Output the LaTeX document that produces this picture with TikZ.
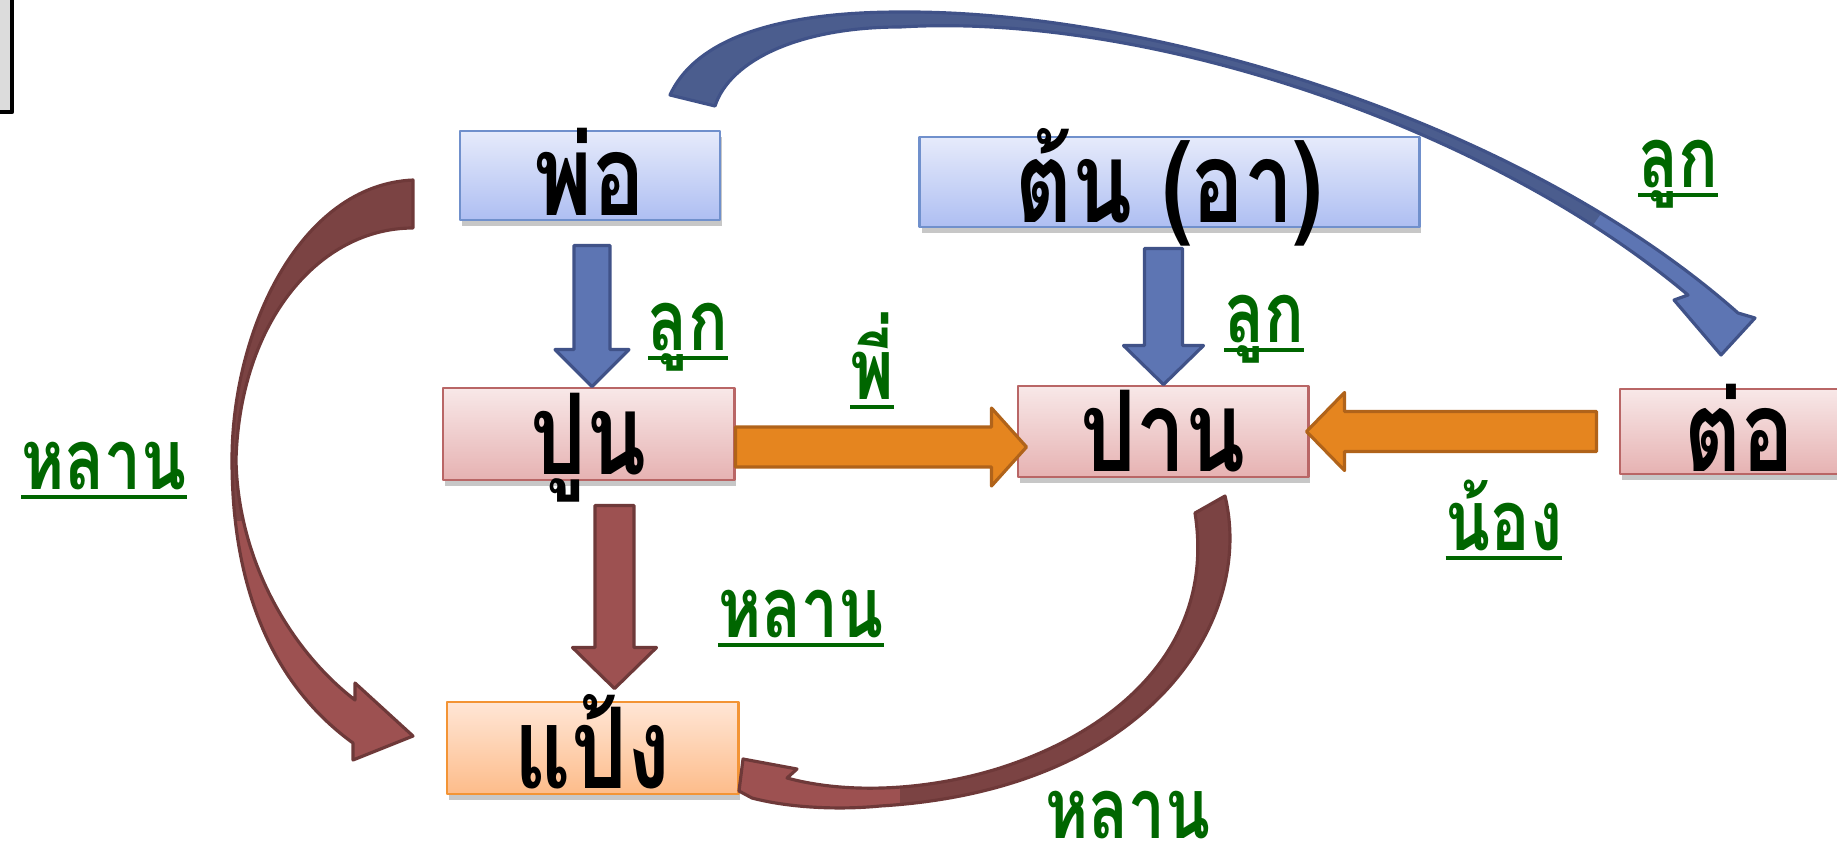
\documentclass[tikz,border=0pt]{standalone}
\usepackage{fontspec}
\newfontfamily\thaifont[Script=Thai,FakeStretch=0.78]{Loma}
\usetikzlibrary{calc}
\usetikzlibrary{shadows}

\definecolor{bluetop}{HTML}{E6EBFB}
\definecolor{bluebot}{HTML}{AEBEF2}
\definecolor{blueframe}{HTML}{7090CC}
\definecolor{pinktop}{HTML}{F8E8E8}
\definecolor{pinkbot}{HTML}{E6B2B2}
\definecolor{pinkframe}{HTML}{B96666}
\definecolor{orangetop}{HTML}{FFE6D6}
\definecolor{orangebot}{HTML}{FDBC8A}
\definecolor{orangeframe}{HTML}{F39435}
\definecolor{arrowblue}{HTML}{5D75B3}
\definecolor{arrowbluedark}{HTML}{4B5D8E}
\definecolor{arrowblueline}{HTML}{405288}
\definecolor{arrowmaroon}{HTML}{9D5151}
\definecolor{arrowmaroondark}{HTML}{7B4343}
\definecolor{arrowmaroonline}{HTML}{6E3939}
\definecolor{arroworange}{HTML}{E5851F}
\definecolor{arroworangeline}{HTML}{B0631A}
\definecolor{labgreen}{HTML}{006600}
\definecolor{cornergray}{HTML}{DCDCDC}

\newcommand\boxfont{\thaifont\bfseries\fontsize{32}{36}\selectfont}
\newcommand\labfont{\thaifont\bfseries\fontsize{24}{28}\selectfont}
\newcommand\ulthai[1]{\setbox0\hbox{#1}\rlap{\rule[-0.12em]{\wd0}{0.05em}}\box0}
% #1 style, #2 tail, #3 tip, #4 half shaft, #5 half head, #6 head length
\newcommand\blockarrow[6]{%
  \coordinate (hb) at ($(#3)!#6!(#2)$);
  \path[#1] ($(#2)!#4!90:(#3)$) -- ($(hb)!#4!90:(#3)$) -- ($(hb)!#5!90:(#3)$) -- (#3)
    -- ($(hb)!#5!-90:(#3)$) -- ($(hb)!#4!-90:(#3)$) -- ($(#2)!#4!-90:(#3)$) -- cycle;}

\tikzset{
  box/.style={draw, line width=0.8pt, inner sep=0pt, text height=0.8cm, text depth=0pt,
    font=\boxfont, drop shadow={shadow xshift=0.6pt, shadow yshift=-1.6pt, fill=black, opacity=0.22}},
  bluebox/.style={box, draw=blueframe, top color=bluetop, bottom color=bluebot},
  pinkbox/.style={box, draw=pinkframe, top color=pinktop, bottom color=pinkbot},
  orangebox/.style={box, draw=orangeframe, top color=orangetop, bottom color=orangebot},
  bluearrow/.style={fill=arrowblue, draw=arrowblueline, line width=0.9pt},
  maroonarrow/.style={fill=arrowmaroon, draw=arrowmaroonline, line width=0.9pt},
  orangearrow/.style={fill=arroworange, draw=arroworangeline, line width=0.9pt},
  lab/.style={font=\labfont, text=labgreen, inner sep=0pt, anchor=base}
}

\begin{document}
\begin{tikzpicture}[x=0.01cm, y=-0.01cm, line join=round]

\clip (0,0) rectangle (1837,848);

\draw[fill=cornergray, line width=1.2pt] (-60,-20) rectangle (12,112);

\node[bluebox, minimum width=2.6cm, minimum height=0.89cm] (pho) at (590,175.5) {พ่อ};
\node[bluebox, minimum width=4.99cm, minimum height=0.9cm] (ton) at (1169.5,182) {ต้น (อา)};
\node[pinkbox, minimum width=2.91cm, minimum height=0.92cm] (pun) at (588.5,434) {ปูน};
\node[pinkbox, minimum width=2.9cm, minimum height=0.91cm] (pan) at (1163,431.5) {ปาน};
\node[pinkbox, minimum width=2.38cm, minimum height=0.85cm] (tor) at (1739,431.5) {ต่อ};
\node[orangebox, minimum width=2.91cm, minimum height=0.92cm] (paeng) at (592.5,748) {แป้ง};

\coordinate (a1s) at ($(pho.south)+(2,24)$);
\coordinate (a1t) at (a1s |- pun.north);
\blockarrow{bluearrow}{a1s}{a1t}{0.18cm}{0.37cm}{0.37cm}

\coordinate (a2s) at ($(ton.south)+(-6,20)$);
\coordinate (a2t) at (a2s |- pan.north);
\blockarrow{bluearrow}{a2s}{a2t}{0.19cm}{0.40cm}{0.39cm}

\coordinate (a3s) at ($(pun.south)+(26,24)$);
\coordinate (a3t) at ($(a3s |- paeng.north)+(0,-12)$);
\blockarrow{maroonarrow}{a3s}{a3t}{0.195cm}{0.42cm}{0.41cm}

\coordinate (a4s) at ($(pun.east)+(0,13)$);
\coordinate (a4t) at ($(a4s -| pan.west)+(10,0)$);
\blockarrow{orangearrow}{a4s}{a4t}{0.2cm}{0.39cm}{0.35cm}

\coordinate (a5s) at ($(tor.west)+(-22,0)$);
\coordinate (a5t) at ($(a5s -| pan.east)+(-3,0)$);
\blockarrow{orangearrow}{a5s}{a5t}{0.2cm}{0.39cm}{0.38cm}

% big arrow from pho over the top to tor
\path[save path=\bluecurve] (670,95) .. controls (700,30) and (800,12) .. (900,12)
  .. controls (1150,10) and (1520,120) .. (1738,313)
  -- (1755,318) -- (1721,355) -- (1674,300) -- (1688,295)
  .. controls (1490,128) and (1150,12) .. (900,27)
  .. controls (800,27) and (730,60) .. (715,106) -- cycle;
\fill[arrowblue, use path=\bluecurve];
\begin{scope}
  \clip (0,0) -- (1750,0) -- (1714,51) -- (1486,379) -- (0,379) -- cycle;
  \fill[arrowbluedark, use path=\bluecurve];
\end{scope}
\draw[arrowblueline, line width=0.9pt, use path=\bluecurve];

% left arrow from pho round to paeng
\path[save path=\leftcurve] (413,180) .. controls (300,185) and (232,330) .. (232,460)
  .. controls (232,600) and (280,690) .. (353,743)
  -- (353,760) -- (413,736) -- (355,683) -- (355,700)
  .. controls (290,650) and (238,560) .. (236,460)
  .. controls (240,320) and (320,228) .. (413,228) -- cycle;
\fill[arrowmaroon, use path=\leftcurve];
\begin{scope}
  \clip (0,0) rectangle (500,520);
  \fill[arrowmaroondark, use path=\leftcurve];
\end{scope}
\draw[arrowmaroonline, line width=0.9pt, use path=\leftcurve];

% arrow from pan down round to paeng
\path[save path=\lowcurve] (1225,496) .. controls (1255,620) and (1150,790) .. (880,806)
  .. controls (840,810) and (790,808) .. (752,798)
  -- (739,791) -- (743,759) -- (797,769) -- (787,778)
  .. controls (850,795) and (930,790) .. (1000,768)
  .. controls (1125,728) and (1215,640) .. (1195,513) -- cycle;
\fill[arrowmaroon, use path=\lowcurve];
\begin{scope}
  \clip (900,0) rectangle (1837,848);
  \fill[arrowmaroondark, use path=\lowcurve];
\end{scope}
\draw[arrowmaroonline, line width=0.9pt, use path=\lowcurve];

\node[lab] (lukA) at (1678,187) {\ulthai{ลูก}};
\node[lab] (lukB) at (1264,342) {\ulthai{ลูก}};
\node[lab] (lukC) at (688,350) {\ulthai{ลูก}};
\node[lab] (phi) at (872,399) {\ulthai{พี่}};
\node[lab] (lanA) at (104,489) {\ulthai{หลาน}};
\node[lab] (lanB) at (801,637) {\ulthai{หลาน}};
\node[lab] (nong) at (1504,550) {\ulthai{น้อง}};
\node[lab] (lanC) at (1128,838) {หลาน};

\end{tikzpicture}
\end{document}
